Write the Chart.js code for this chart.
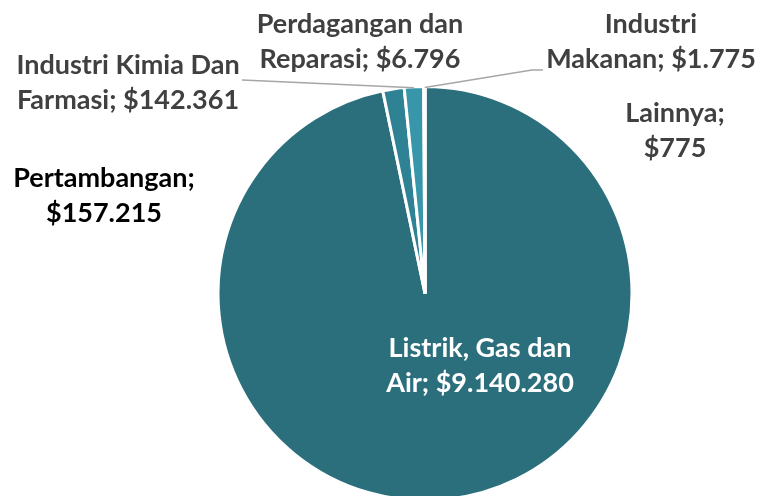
<!DOCTYPE html>
<html>
<head>
<meta charset="utf-8">
<script src="https://cdn.jsdelivr.net/npm/chart.js@4/dist/chart.umd.min.js"></script>
<style>
  html, body { margin: 0; padding: 0; background: #ffffff; overflow: hidden; }
  #wrap { width: 762px; height: 500px; position: relative; }
</style>
</head>
<body>
<div id="wrap"><canvas id="c" width="762" height="500"></canvas></div>
<script>
// ---- data ----
const categories = ['Listrik, Gas dan Air', 'Pertambangan', 'Industri Kimia Dan Farmasi', 'Perdagangan dan Reparasi', 'Industri Makanan', 'Lainnya'];
const values = [9140280, 157215, 142361, 6796, 1775, 775];
const labelLines = [
  ['Listrik, Gas dan', 'Air; $9.140.280'],
  ['Pertambangan;', '$157.215'],
  ['Industri Kimia Dan', 'Farmasi; $142.361'],
  ['Perdagangan dan', 'Reparasi; $6.796'],
  ['Industri', 'Makanan; $1.775'],
  ['Lainnya;', '$775']
];
const sliceColors = ['#2B6F7D', '#2F8194', '#3896AA', '#5AAFC0', '#7BC2D0', '#9CD3DD'];

// ---- label layout (text placement only) ----
const labelStyle = [
  { x: 480, y: 357, color: '#ffffff' },
  { x: 104, y: 187, color: '#000000' },
  { x: 128, y: 74,  color: '#404040', leader: [[242, 80]] },
  { x: 360, y: 33,  color: '#404040' },
  { x: 651, y: 33,  color: '#404040', leader: [[532, 70], [543, 70]] },
  { x: 675, y: 122, color: '#404040' }
];
const FONT = 'bold 27px Lato, "Open Sans", sans-serif';
const LINE_H = 35;

const labelPlugin = {
  id: 'sliceLabels',
  afterDatasetsDraw(chart) {
    const ctx = chart.ctx;
    const meta = chart.getDatasetMeta(0);
    ctx.save();
    // leader lines
    meta.data.forEach((arc, i) => {
      const st = labelStyle[i];
      if (!st.leader) return;
      const p = arc.getProps(['x', 'y', 'startAngle', 'endAngle', 'outerRadius'], true);
      const mid = (p.startAngle + p.endAngle) / 2;
      const sx = p.x + Math.cos(mid) * (p.outerRadius - 1);
      const sy = p.y + Math.sin(mid) * (p.outerRadius - 1);
      ctx.beginPath();
      ctx.moveTo(sx, sy);
      st.leader.forEach(pt => ctx.lineTo(pt[0], pt[1]));
      ctx.strokeStyle = '#A6A6A6';
      ctx.lineWidth = 1.5;
      ctx.stroke();
    });
    // texts
    ctx.font = FONT;
    ctx.textAlign = 'center';
    ctx.textBaseline = 'alphabetic';
    labelLines.forEach((lines, i) => {
      const st = labelStyle[i];
      ctx.fillStyle = st.color;
      lines.forEach((t, j) => ctx.fillText(t, st.x, st.y + j * LINE_H));
    });
    ctx.restore();
  }
};

new Chart(document.getElementById('c'), {
  type: 'pie',
  data: {
    labels: categories,
    datasets: [{
      data: values,
      backgroundColor: sliceColors,
      borderColor: '#ffffff',
      borderWidth: 3,
      radius: 207,
      clip: false
    }]
  },
  options: {
    responsive: false,
    animation: false,
    devicePixelRatio: 1,
    layout: { padding: { left: 88, right: 0, top: 87, bottom: 0 } },
    plugins: {
      legend: { display: false },
      tooltip: { enabled: false }
    }
  },
  plugins: [labelPlugin]
});
</script>
</body>
</html>
